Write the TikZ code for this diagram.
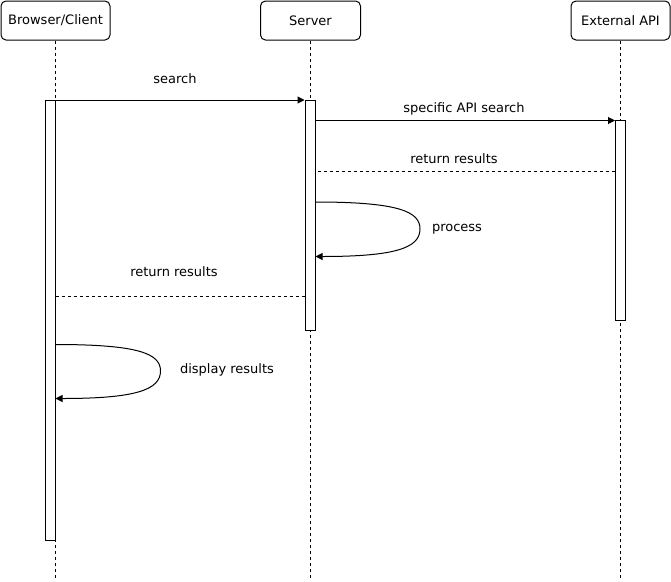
\documentclass[tikz,border=0pt]{standalone}
\usepackage{fontspec}
\setmainfont{DejaVu Sans}
\usepackage{tikz}
\usetikzlibrary{arrows.meta}

\tikzset{
  actor/.style={draw, rounded corners=5pt, minimum height=39pt, inner sep=0pt, font=\fontsize{13}{15}\selectfont},
  lifeline/.style={dashed, dash pattern=on 3pt off 3pt},
  activation/.style={draw, fill=white},
  msg/.style={-{Triangle[length=7pt, width=7pt]}},
  reply/.style={dash pattern=on 3pt off 3pt},
  lbl/.style={font=\fontsize{13}{15}\selectfont, inner sep=0pt},
  pt/.style={inner sep=0pt, minimum size=0pt}
}

\begin{document}
\begin{tikzpicture}[x=1pt, y=-1pt, line width=1pt]

  \useasboundingbox (0,0) rectangle (671,581);

  % actors
  \draw (55.5,20.5) node[actor, minimum width=109pt, name=client] {Browser/Client};
  \draw (310.5,20.5) node[actor, minimum width=100pt, name=server] {Server};
  \draw (620.5,20.5) node[actor, minimum width=99pt, name=api] {External API};

  % lifelines
  \draw (55,578) node[pt, name=clientend] {};
  \draw (310,578) node[pt, name=serverend] {};
  \draw (620.5,578) node[pt, name=apiend] {};
  \draw [lifeline] (client.south -| clientend) -- (clientend);
  \draw [lifeline] (server.south -| serverend) -- (serverend);
  \draw [lifeline] (api.south -| apiend) -- (apiend);

  % activation bars
  \draw [activation] (45,100) rectangle (55,540);
  \draw [activation] (305,100) rectangle (315,330);
  \draw [activation] (615.5,120) rectangle (625.5,320);

  % search
  \draw (55,100) node[pt, name=s1] {};
  \draw (305,100) node[pt, name=s2] {};
  \draw [msg] (s1) -- (s2);
  \draw (175,79) node[lbl, name=searchlbl] {search};

  % specific API search
  \draw (315,120.5) node[pt, name=a1] {};
  \draw (615.5,120.5) node[pt, name=a2] {};
  \draw [msg] (a1) -- (a2);
  \draw (464,109) node[lbl, name=apilbl] {specific API search};

  % return results from api
  \draw (615.5,171) node[pt, name=b1] {};
  \draw (315,171) node[pt, name=b2] {};
  \draw [reply] (b1) -- (b2);
  \draw (454,159) node[lbl, name=retlbl1] {return results};

  % process
  \draw (315,202) node[pt, name=p1] {};
  \draw (315,256.5) node[pt, name=p2] {};
  \draw [msg] (p1) .. controls (400,202) and (420,212) .. (420,229)
              .. controls (420,248) and (395,256.5) .. (p2);
  \draw (457,229) node[lbl, name=proclbl] {process};

  % return results to client
  \draw (305,296) node[pt, name=r1] {};
  \draw (55,296) node[pt, name=r2] {};
  \draw [reply] (r1) -- (r2);
  \draw (174,272) node[lbl, name=retlbl2] {return results};

  % display results
  \draw (55,344.5) node[pt, name=d1] {};
  \draw (55,398.5) node[pt, name=d2] {};
  \draw [msg] (d1) .. controls (140,344.5) and (160.5,354) .. (160.5,371)
              .. controls (160.5,390) and (135,398.5) .. (d2);
  \draw (227,370) node[lbl, name=displbl] {display results};

\end{tikzpicture}
\end{document}
